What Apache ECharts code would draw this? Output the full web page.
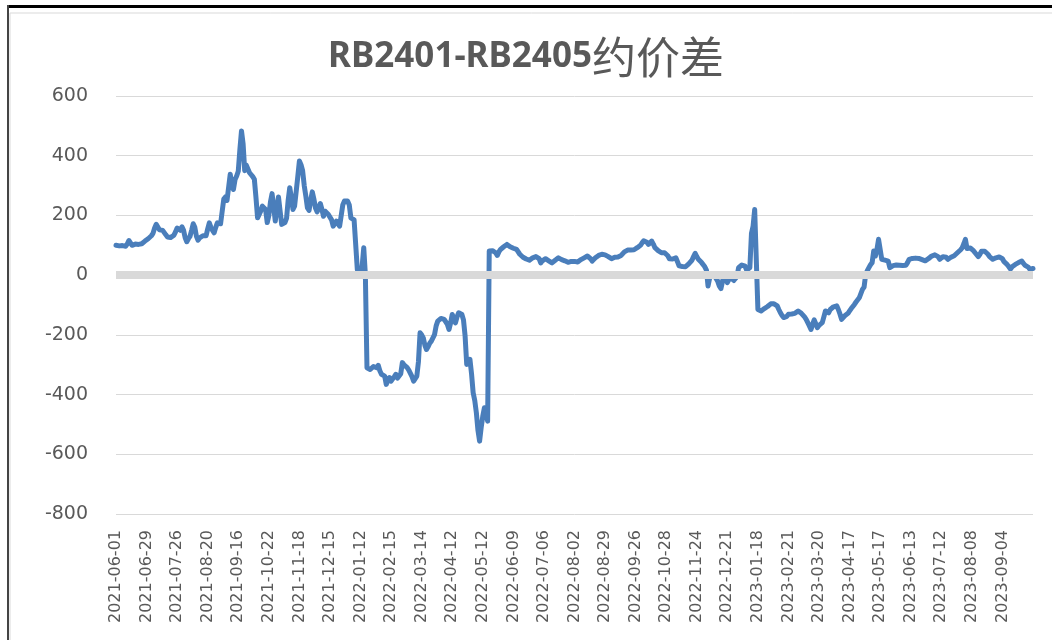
<!DOCTYPE html>
<html>
<head>
<meta charset="utf-8">
<script src="https://cdn.jsdelivr.net/npm/echarts@6/dist/echarts.min.js"></script>
<style>
  html, body { margin: 0; padding: 0; background: #fff; }
  #main { width: 1052px; height: 640px; }
</style>
</head>
<body>
<div id="main"></div>
<script>
// x axis labels, one every 19 trading days
var tickLabels = ['2021-06-01', '2021-06-29', '2021-07-26', '2021-08-20', '2021-09-16', '2021-10-22',
    '2021-11-18', '2021-12-15', '2022-01-12', '2022-02-15', '2022-03-14', '2022-04-12', '2022-05-12',
    '2022-06-09', '2022-07-06', '2022-08-02', '2022-08-29', '2022-09-26', '2022-10-28', '2022-11-24',
    '2022-12-21', '2023-01-18', '2023-02-21', '2023-03-20', '2023-04-17', '2023-05-17', '2023-06-13',
    '2023-07-12', '2023-08-08', '2023-09-04'];
var step = 19;

// RB2401-RB2405 spread, one value per trading day (rows of 19 = one label span)
var spread = [
    100, 96, 98, 94, 99, 95, 97, 104, 116, 108, 100, 95, 104, 106, 103, 107, 105, 110, 114,
    118, 122, 126, 132, 140, 158, 170, 166, 152, 150, 150, 145, 135, 128, 124, 126, 130, 134, 145,
    158, 155, 150, 162, 150, 125, 112, 122, 130, 150, 172, 160, 130, 117, 125, 130, 132, 128, 132,
    155, 175, 160, 150, 142, 160, 175, 170, 172, 170, 255, 262, 250, 255, 338, 300, 287, 320, 332,
    348, 420, 483, 440, 350, 368, 370, 343, 340, 330, 321, 260, 192, 197, 215, 231, 228, 220, 176,
    200, 245, 273, 230, 181, 225, 262, 215, 170, 172, 176, 190, 250, 293, 260, 220, 231, 280, 330,
    382, 370, 350, 300, 265, 225, 217, 250, 279, 255, 225, 212, 206, 240, 220, 197, 214, 208, 203,
    200, 185, 164, 172, 181, 175, 164, 200, 236, 248, 250, 248, 235, 192, 188, 185, 181, 19, 2,
    5, 30, 92, 2, -310, -305, -316, -310, -306, -304, -310, -302, -320, -332, -330, -338, -366, -350, -343,
    -355, -360, -340, -332, -345, -349, -330, -293, -300, -305, -310, -318, -321, -340, -355, -350, -338, -290, -193,
    -200, -210, -235, -249, -240, -228, -221, -210, -199, -170, -154, -148, -145, -143, -148, -154, -165, -182, -160,
    -132, -145, -160, -140, -126, -130, -132, -150, -204, -299, -290, -282, -330, -394, -420, -461, -520, -556, -510,
    -472, -444, -460, -489, 81, 80, 82, 81, 75, 66, 78, 86, 90, 95, 98, 103, 98, 95, 92,
    90, 88, 86, 80, 70, 64, 60, 55, 54, 51, 50, 55, 58, 58, 62, 67, 55, 41, 48,
    52, 55, 52, 48, 44, 41, 45, 50, 55, 58, 55, 52, 51, 48, 45, 43, 41, 46, 47,
    46, 47, 44, 48, 52, 55, 58, 62, 64, 66, 55, 47, 52, 58, 62, 66, 68, 70, 69,
    68, 66, 62, 58, 55, 57, 60, 60, 61, 61, 66, 72, 78, 81, 84, 86, 84, 81, 85,
    90, 92, 96, 100, 108, 115, 120, 110, 103, 108, 114, 104, 92, 88, 82, 78, 75, 74, 75,
    75, 65, 55, 50, 54, 56, 58, 45, 31, 30, 29, 30, 28, 32, 38, 42, 50, 62, 73,
    62, 53, 48, 42, 38, 28, 17, -36, -10, 3, 0, -2, -3, -20, -36, -45, -51, 3, -10,
    -25, -15, -8, -12, -18, -20, -5, 25, 31, 34, 36, 30, 17, 22, 25, 140, 164, 220, 222,
    -115, -118, -120, -115, -112, -109, -105, -100, -96, -94, -96, -100, -103, -115, -126, -135, -142, -148, -138,
    -131, -131, -130, -129, -128, -124, -120, -125, -128, -131, -140, -148, -154, -170, -182, -165, -150, -148, -176,
    -168, -162, -159, -140, -120, -124, -126, -115, -109, -106, -104, -103, -115, -130, -148, -143, -136, -131, -128,
    -120, -112, -105, -98, -90, -84, -76, -70, -48, -40, 3, 15, 25, 35, 42, 81, 64, 86, 120,
    125, 53, 52, 50, 47, 47, 25, 27, 32, 36, 34, 36, 33, 31, 32, 33, 33, 42, 53,
    55, 56, 58, 57, 55, 56, 55, 52, 50, 48, 47, 55, 60, 64, 66, 68, 70, 62, 53,
    56, 62, 66, 60, 53, 56, 60, 62, 65, 70, 75, 80, 85, 92, 105, 120, 89, 90, 91,
    92, 82, 75, 70, 62, 70, 80, 86, 80, 75, 70, 62, 56, 53, 55, 58, 60, 61, 62,
    55, 45, 42, 35, 28, 20, 28, 33, 36, 38, 42, 45, 47, 40, 33, 31, 27, 20, 21,
    22
];

// fill the days between labels with weekdays so every point has a date
function nextWeekday(s) {
    var d = new Date(s + 'T00:00:00Z');
    do { d.setUTCDate(d.getUTCDate() + 1); } while (d.getUTCDay() === 0 || d.getUTCDay() === 6);
    return d.toISOString().slice(0, 10);
}
var dates = [];
for (var i = 0; i < spread.length; i++) {
    var t = tickLabels[i / step];
    dates.push(i % step === 0 && t ? t : nextWeekday(dates[i - 1]));
}

var chart = echarts.init(document.getElementById('main'));
var grey = '#595959';

var option = {
    animation: false,
    backgroundColor: '#fff',
    title: {
        text: '{a|RB2401-RB2405}{b|约价差}',
        left: 'center',
        top: 30,
        textStyle: {
            rich: {
                a: { fontFamily: 'Noto Sans', fontSize: 35, fontWeight: 'bold', color: grey },
                b: { fontFamily: 'Noto Sans CJK SC', fontSize: 44, fontWeight: 'normal', color: grey }
            }
        }
    },
    graphic: [
        { type: 'rect', shape: { x: 10, y: 13, width: 1050, height: 640 }, style: { fill: 'none', stroke: '#d9d9d9', lineWidth: 1 }, silent: true },
        { type: 'rect', shape: { x: 8, y: 5, width: 1044, height: 3 }, style: { fill: '#000' }, silent: true },
        { type: 'rect', shape: { x: 7, y: 5, width: 2, height: 635 }, style: { fill: '#444' }, silent: true }
    ],
    grid: { left: 116, right: 19, top: 96, bottom: 126 },
    xAxis: {
        type: 'category',
        data: dates,
        boundaryGap: false,
        axisLine: { show: false },
        axisTick: { show: false },
        axisLabel: {
            interval: step - 1,
            rotate: 90,
            margin: 16,
            fontFamily: 'DejaVu Sans',
            fontSize: 16,
            color: grey,
            formatter: function(v) { return tickLabels.indexOf(v) >= 0 ? v : ''; }
        },
        splitLine: { show: false }
    },
    yAxis: {
        type: 'value',
        min: -800,
        max: 600,
        interval: 200,
        axisLine: { show: false },
        axisTick: { show: false },
        axisLabel: { fontFamily: 'DejaVu Sans', fontSize: 19, color: grey, margin: 28 },
        splitLine: { lineStyle: { color: '#d9d9d9', width: 1 } }
    },
    series: [{
        type: 'line',
        data: [],
        z: 1,
        silent: true,
        markLine: {
            silent: true,
            symbol: 'none',
            label: { show: false },
            lineStyle: { color: '#d9d9d9', width: 8, type: 'solid' },
            data: [{ yAxis: 0 }]
        }
    }, {
        name: 'spread',
        type: 'line',
        data: spread,
        z: 3,
        showSymbol: false,
        lineStyle: { color: '#4a7ebb', width: 5, join: 'round', cap: 'round' }
    }]
};

chart.setOption(option);
</script>
</body>
</html>
